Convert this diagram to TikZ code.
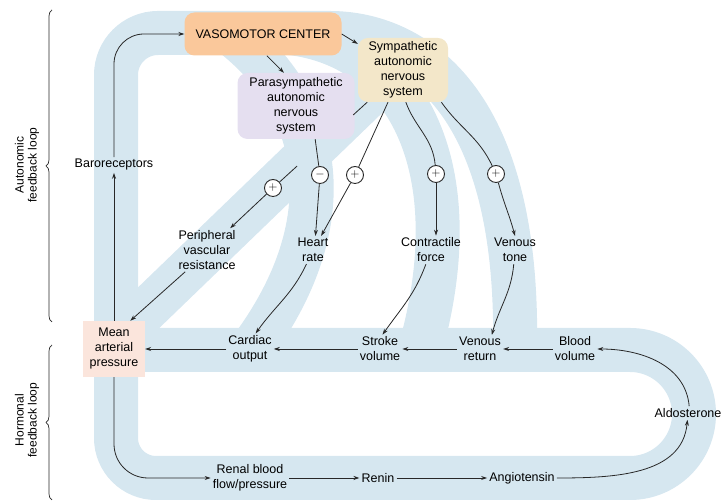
\documentclass[tikz,border=0pt]{standalone}
\usepackage{fontspec}
\setmainfont{Liberation Sans}
\usetikzlibrary{arrows.meta,positioning,decorations.pathreplacing}

\definecolor{bandblue}{RGB}{214,231,240}
\definecolor{vmcorange}{RGB}{250,200,155}
\definecolor{symtan}{RGB}{243,231,201}
\definecolor{paralilac}{RGB}{229,223,240}
\definecolor{mappink}{RGB}{251,229,220}
\definecolor{linegray}{RGB}{40,40,40}

\begin{document}
\begin{tikzpicture}[x=1pt, y=1pt, on grid,
  font=\fontsize{12.5}{15}\selectfont,
  >={Stealth[length=6pt,width=4pt]},
  band/.style={draw=bandblue, line width=44pt},
  sysbox/.style={rounded corners=10pt, align=center, inner sep=3pt},
  mapbox/.style={fill=mappink, align=center, inner sep=3pt, minimum width=62pt, minimum height=56pt},
  txt/.style={align=center, inner sep=2pt},
  signdot/.style={circle, draw=linegray, fill=white, line width=0.9pt, minimum size=17pt, inner sep=0pt},
  conn/.style={color=linegray, line width=0.8pt},
  loopbrace/.style={draw=linegray, line width=0.7pt, decorate, decoration={brace, amplitude=6pt}},
  looplabel/.style={align=center, rotate=90, font=\fontsize{12}{13}\selectfont}]

\useasboundingbox (0,0) rectangle (725,502);

% flow bands
\draw[band] (116,152) -- (116,427) arc[start angle=180, end angle=90, radius=42] -- (330,469)
  .. controls (400,469) and (520,420) .. (515,152);
\draw[band] (116,152) -- (116,64) arc[start angle=180, end angle=270, radius=40] -- (630,24)
  arc[start angle=-90, end angle=90, radius=64] -- (116,152);
\draw[band] (290,469) .. controls (410,455) and (470,330) .. (420,152);
\draw[band] (230,469) .. controls (330,392) and (340,272) .. (250,152);
\draw[band] (395,432) -- (110,157);

% nodes
\node[mapbox](map) at (114,153){Mean\\arterial\\pressure};
\node[txt](baro)[above=184pt of map]{Baroreceptors};
\node[sysbox, fill=vmcorange, minimum width=157pt, minimum height=43pt](vmc)[above right=131pt and 149pt of baro]{VASOMOTOR CENTER};
\node[sysbox, fill=paralilac, minimum width=117pt, minimum height=66pt](para)[below right=72pt and 33pt of vmc]{Parasympathetic\\autonomic\\nervous\\system};
\node[sysbox, fill=symtan, minimum width=90pt, minimum height=64pt](sym)[below right=36pt and 140pt of vmc]{Sympathetic\\autonomic\\nervous\\system};
\node[txt](pvr)[above right=99pt and 93pt of map]{Peripheral\\vascular\\resistance};
\node[txt](hr)[right=106pt of pvr]{Heart\\rate};
\node[txt](cf)[right=118pt of hr]{Contractile\\force};
\node[txt](vt)[right=84pt of cf]{Venous\\tone};
\node[txt](co)[right=136pt of map]{Cardiac\\output};
\node[txt](sv)[right=130pt of co]{Stroke\\volume};
\node[txt](vr)[right=100pt of sv]{Venous\\return};
\node[txt](bv)[right=95pt of vr]{Blood\\volume};
\node[txt](ald)[below right=64pt and 113pt of bv]{Aldosterone};
\node[txt](renal)[below=129pt of co]{Renal blood\\flow/pressure};
\node[txt](renin)[right=128pt of renal]{Renin};
\node[txt](ang)[right=144pt of renin]{Angiotensin};
\node[signdot](s1)[above right=62pt and 66pt of pvr]{$+$};
\node[signdot](s2)[above right=75pt and 7pt of hr]{$-$};
\node[signdot](s3)[right=35pt of s2]{$+$};
\node[signdot](s4)[above right=76pt and 5pt of cf]{$+$};
\node[signdot](s5)[above left=76pt and 19pt of vt]{$+$};
\node[looplabel](autoloop) at (27,337){Autonomic\\feedback loop};
\node[looplabel](hormloop) at (27,82){Hormonal\\feedback loop};

% braces
\draw[loopbrace] (52,180) -- (52,492);
\draw[loopbrace] (52,2) -- (52,157);

% sympathetic line to vascular resistance, broken behind the parasympathetic box
\path (sym.-138) -- (s1) coordinate[pos=0.16] (g1) coordinate[pos=0.8] (g2);
\draw[conn] (sym.-138) -- (g1);
\draw[conn] (g2) -- (s1);

\path[conn]
	(para.-60) edge (s2)
	(sym.-115) edge (s3)
	(sym.-85) edge [out=-70, in=95] (s4)
	(sym.-40) edge [out=-55, in=115] (s5);

\path[conn, ->]
	(map) edge (baro)
	(vmc.-80) edge (para.110)
	(vmc.east) edge (sym.150)
	(s1) edge (pvr)
	(s2) edge (hr.80)
	(s3) edge (hr.60)
	(s4) edge (s4 |- cf.north)
	(s5) edge [out=-75, in=105] (vt.north)
	(pvr.-135) edge (map.60)
	(hr) edge [out=-115, in=55] (co.70)
	(cf) edge [out=-110, in=55] (sv.80)
	(vt) edge [out=-95, in=75] (vr.50)
	(sv) edge (co)
	(co) edge (map)
	(vr) edge (sv)
	(bv) edge (vr)
	(renal) edge (renin)
	(renin) edge (ang)
	(ang) edge [out=0, in=-95] (ald)
	(ald.80) edge [out=95, in=0] (bv);

\draw[conn, ->, rounded corners=30pt] (baro) |- (vmc);
\draw[conn, ->, rounded corners=34pt] (map) |- (renal);
\end{tikzpicture}
\end{document}
